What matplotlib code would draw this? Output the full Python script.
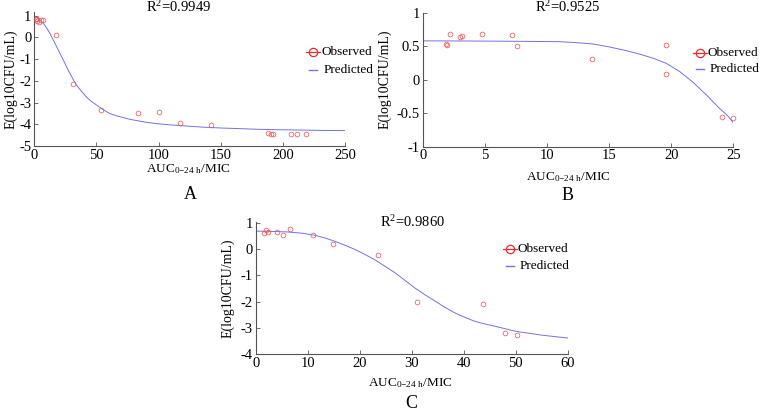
import matplotlib
matplotlib.use("Agg")
import matplotlib.pyplot as plt
from matplotlib.lines import Line2D
from matplotlib.ticker import FuncFormatter

plt.rcParams['font.family'] = ['Liberation Serif', 'DejaVu Serif']
plt.rcParams['mathtext.fontset'] = 'custom'
plt.rcParams['mathtext.rm'] = 'Liberation Serif'
plt.rcParams['mathtext.it'] = 'Liberation Serif'
plt.rcParams['axes.unicode_minus'] = False

# ---------------- Data ----------------
# Panel A
a_obs_x = [1.0, 1.8, 2.4, 4.0, 5.6, 7.3, 17.5, 30.9, 53.4, 83.2, 100.6, 117.0, 142.0,
           188.3, 190.2, 192.0, 206.3, 211.3, 218.6]
a_obs_y = [0.85, 0.83, 0.77, 0.71, 0.80, 0.80, 0.12, -2.15, -3.35, -3.46, -3.43, -3.95, -4.05,
           -4.40, -4.45, -4.45, -4.45, -4.45, -4.45]
a_pred_x = [1.9, 4.5, 7.3, 10.0, 12.6, 15.3, 18.0, 20.7, 23.4, 26.0, 28.7, 31.4, 34.1, 36.8,
            39.4, 42.1, 44.8, 47.5, 50.2, 55.5, 60.9, 66.2, 71.6, 77.0, 82.4, 90.4, 98.5,
            110.0, 120.0, 135.0, 150.0, 165.0, 180.0, 195.0, 210.0, 230.0, 250.0]
a_pred_y = [0.92, 0.80, 0.65, 0.43, 0.18, -0.12, -0.43, -0.74, -1.05, -1.36, -1.66, -1.95,
            -2.20, -2.40, -2.58, -2.75, -2.89, -3.01, -3.12, -3.33, -3.51, -3.61, -3.69,
            -3.77, -3.83, -3.91, -3.97, -4.03, -4.07, -4.13, -4.17, -4.20, -4.23, -4.25,
            -4.26, -4.28, -4.29]

# Panel B
b_obs_x = [1.85, 1.93, 2.2, 3.03, 3.14, 4.75, 7.19, 7.62, 13.6, 19.55, 19.6, 24.06, 24.97]
b_obs_y = [0.527, 0.517, 0.68, 0.64, 0.657, 0.68, 0.67, 0.50, 0.31, 0.52, 0.09, -0.557, -0.576]
b_pred_x = [0.0, 3.0, 6.0, 9.0, 11.05, 12.4, 13.7, 15.0, 16.4, 17.5, 18.55, 19.6, 20.7,
            21.8, 22.85, 23.9, 24.5, 25.0]
b_pred_y = [0.58, 0.578, 0.575, 0.571, 0.567, 0.553, 0.533, 0.49, 0.433, 0.38, 0.32, 0.245,
            0.12, -0.045, -0.23, -0.43, -0.53, -0.64]

# Panel C
c_obs_x = [1.65, 1.98, 2.4, 4.1, 5.25, 6.5, 11.0, 14.8, 23.5, 31.1, 43.7, 47.9, 50.3]
c_obs_y = [0.63, 0.74, 0.65, 0.66, 0.53, 0.79, 0.56, 0.20, -0.23, -2.01, -2.11, -3.19, -3.26]
c_pred_x = [0.0, 3.0, 6.0, 9.0, 11.4, 13.3, 15.25, 17.2, 19.1, 21.0, 22.9, 24.85, 26.8,
            28.7, 30.6, 32.55, 34.5, 36.4, 38.3, 40.2, 42.1, 44.0, 46.0, 49.9, 55.0, 60.0]
c_pred_y = [0.69, 0.68, 0.66, 0.61, 0.53, 0.43, 0.30, 0.15, -0.01, -0.20, -0.40, -0.65,
            -0.90, -1.19, -1.48, -1.74, -1.98, -2.22, -2.43, -2.60, -2.75, -2.85, -2.94,
            -3.13, -3.28, -3.39]

titles = ["R$^2$=0.9949", "R$^2$=0.9525", "R$^2$=0.9860"]
letters = ["A", "B", "C"]
xlab = "AUC$_{0\\mathrm{-}24\\ \\mathrm{h}}$/MIC"
ylab = "E(log10CFU/mL)"

W, H = 762.0, 411.0
fig = plt.figure(figsize=(W / 100, H / 100), dpi=100)


def fx(px):
    return px / W


def fy(py):
    return 1 - py / H


fmt = FuncFormatter(lambda v, p: "%g" % v)
red = '#ec5a5a'
red_leg = '#ee2a2a'
blue = '#7272e6'


def make_axes(left, right, top, bottom, xlim, ylim, xticks, yticks):
    ax = fig.add_axes([fx(left), fy(bottom), fx(right - left), (bottom - top) / H])
    ax.set_xlim(*xlim)
    ax.set_ylim(*ylim)
    ax.set_xticks(xticks)
    ax.set_yticks(yticks)
    ax.xaxis.set_major_formatter(fmt)
    ax.yaxis.set_major_formatter(fmt)
    for s in ['top', 'right']:
        ax.spines[s].set_visible(False)
    for s in ['left', 'bottom']:
        ax.spines[s].set_color('#555555')
        ax.spines[s].set_linewidth(0.8)
    ax.tick_params(direction='in', length=3, width=0.6, color='#555555',
                   labelsize=10.5, pad=2)
    ax.patch.set_alpha(0)
    return ax


def legend(x_marker, x_text, y_obs, y_pred):
    fig.add_artist(Line2D([fx(x_marker - 7), fx(x_marker + 7)], [fy(y_obs), fy(y_obs)],
                          color=red_leg, lw=0.9, transform=fig.transFigure))
    fig.add_artist(Line2D([fx(x_marker)], [fy(y_obs)], color=red_leg, marker='o', ms=6,
                          mfc='none', mew=0.9, lw=0, transform=fig.transFigure))
    fig.text(fx(x_text), fy(y_obs), "Observed", fontsize=9.5, va='center', ha='left')
    fig.add_artist(Line2D([fx(x_marker - 4), fx(x_marker + 4)], [fy(y_pred), fy(y_pred)],
                          color=blue, lw=1.0, transform=fig.transFigure))
    fig.text(fx(x_text + 2), fy(y_pred), "Predicted", fontsize=9.5, va='center', ha='left')


panels = [
    dict(box=(34.3, 345.0, 12.5, 146.0), xlim=(0, 250), ylim=(-5, 1.15),
         xt=list(range(0, 251, 50)), yt=list(range(-5, 2)),
         ox=a_obs_x, oy=a_obs_y, px=a_pred_x, py=a_pred_y,
         title=(179, 7), xl=(188, 169), let=(190, 194), yl=(11, 79),
         leg=(313, 322, 52, 70)),
    dict(box=(422.7, 733.3, 12.7, 146.7), xlim=(0, 25), ylim=(-1, 1),
         xt=list(range(0, 26, 5)), yt=[-1, -0.5, 0, 0.5, 1],
         ox=b_obs_x, oy=b_obs_y, px=b_pred_x, py=b_pred_y,
         title=(568, 7), xl=(568, 177), let=(568, 195), yl=(385, 79),
         leg=(700, 708, 52.7, 69.5)),
    dict(box=(255.7, 567.7, 221.7, 354.0), xlim=(0, 60), ylim=(-4, 1.05),
         xt=list(range(0, 61, 10)), yt=list(range(-4, 2)),
         ox=c_obs_x, oy=c_obs_y, px=c_pred_x, py=c_pred_y,
         title=(413, 222), xl=(410, 383), let=(411, 403), yl=(228, 288),
         leg=(510, 518, 249.3, 266)),
]

for i, p in enumerate(panels):
    l, r, t, b = p['box']
    ax = make_axes(l, r, t, b, p['xlim'], p['ylim'], p['xt'], p['yt'])
    ax.plot(p['px'], p['py'], color=blue, lw=0.7, zorder=2)
    ax.plot(p['ox'], p['oy'], linestyle='none', marker='o', ms=3.4, mfc='none',
            mec=red, mew=0.55, zorder=3, clip_on=False)
    fig.text(fx(p['title'][0]), fy(p['title'][1]), titles[i], fontsize=10.5,
             ha='center', va='center')
    fig.text(fx(p['xl'][0]), fy(p['xl'][1]), xlab, fontsize=9.5, ha='center', va='center')
    fig.text(fx(p['let'][0]), fy(p['let'][1]), letters[i], fontsize=13, ha='center',
             va='center')
    fig.text(fx(p['yl'][0]), fy(p['yl'][1]), ylab, fontsize=10, ha='center', va='center',
             rotation=90)
    legend(*p['leg'])

fig.savefig("out.png", dpi=100)
